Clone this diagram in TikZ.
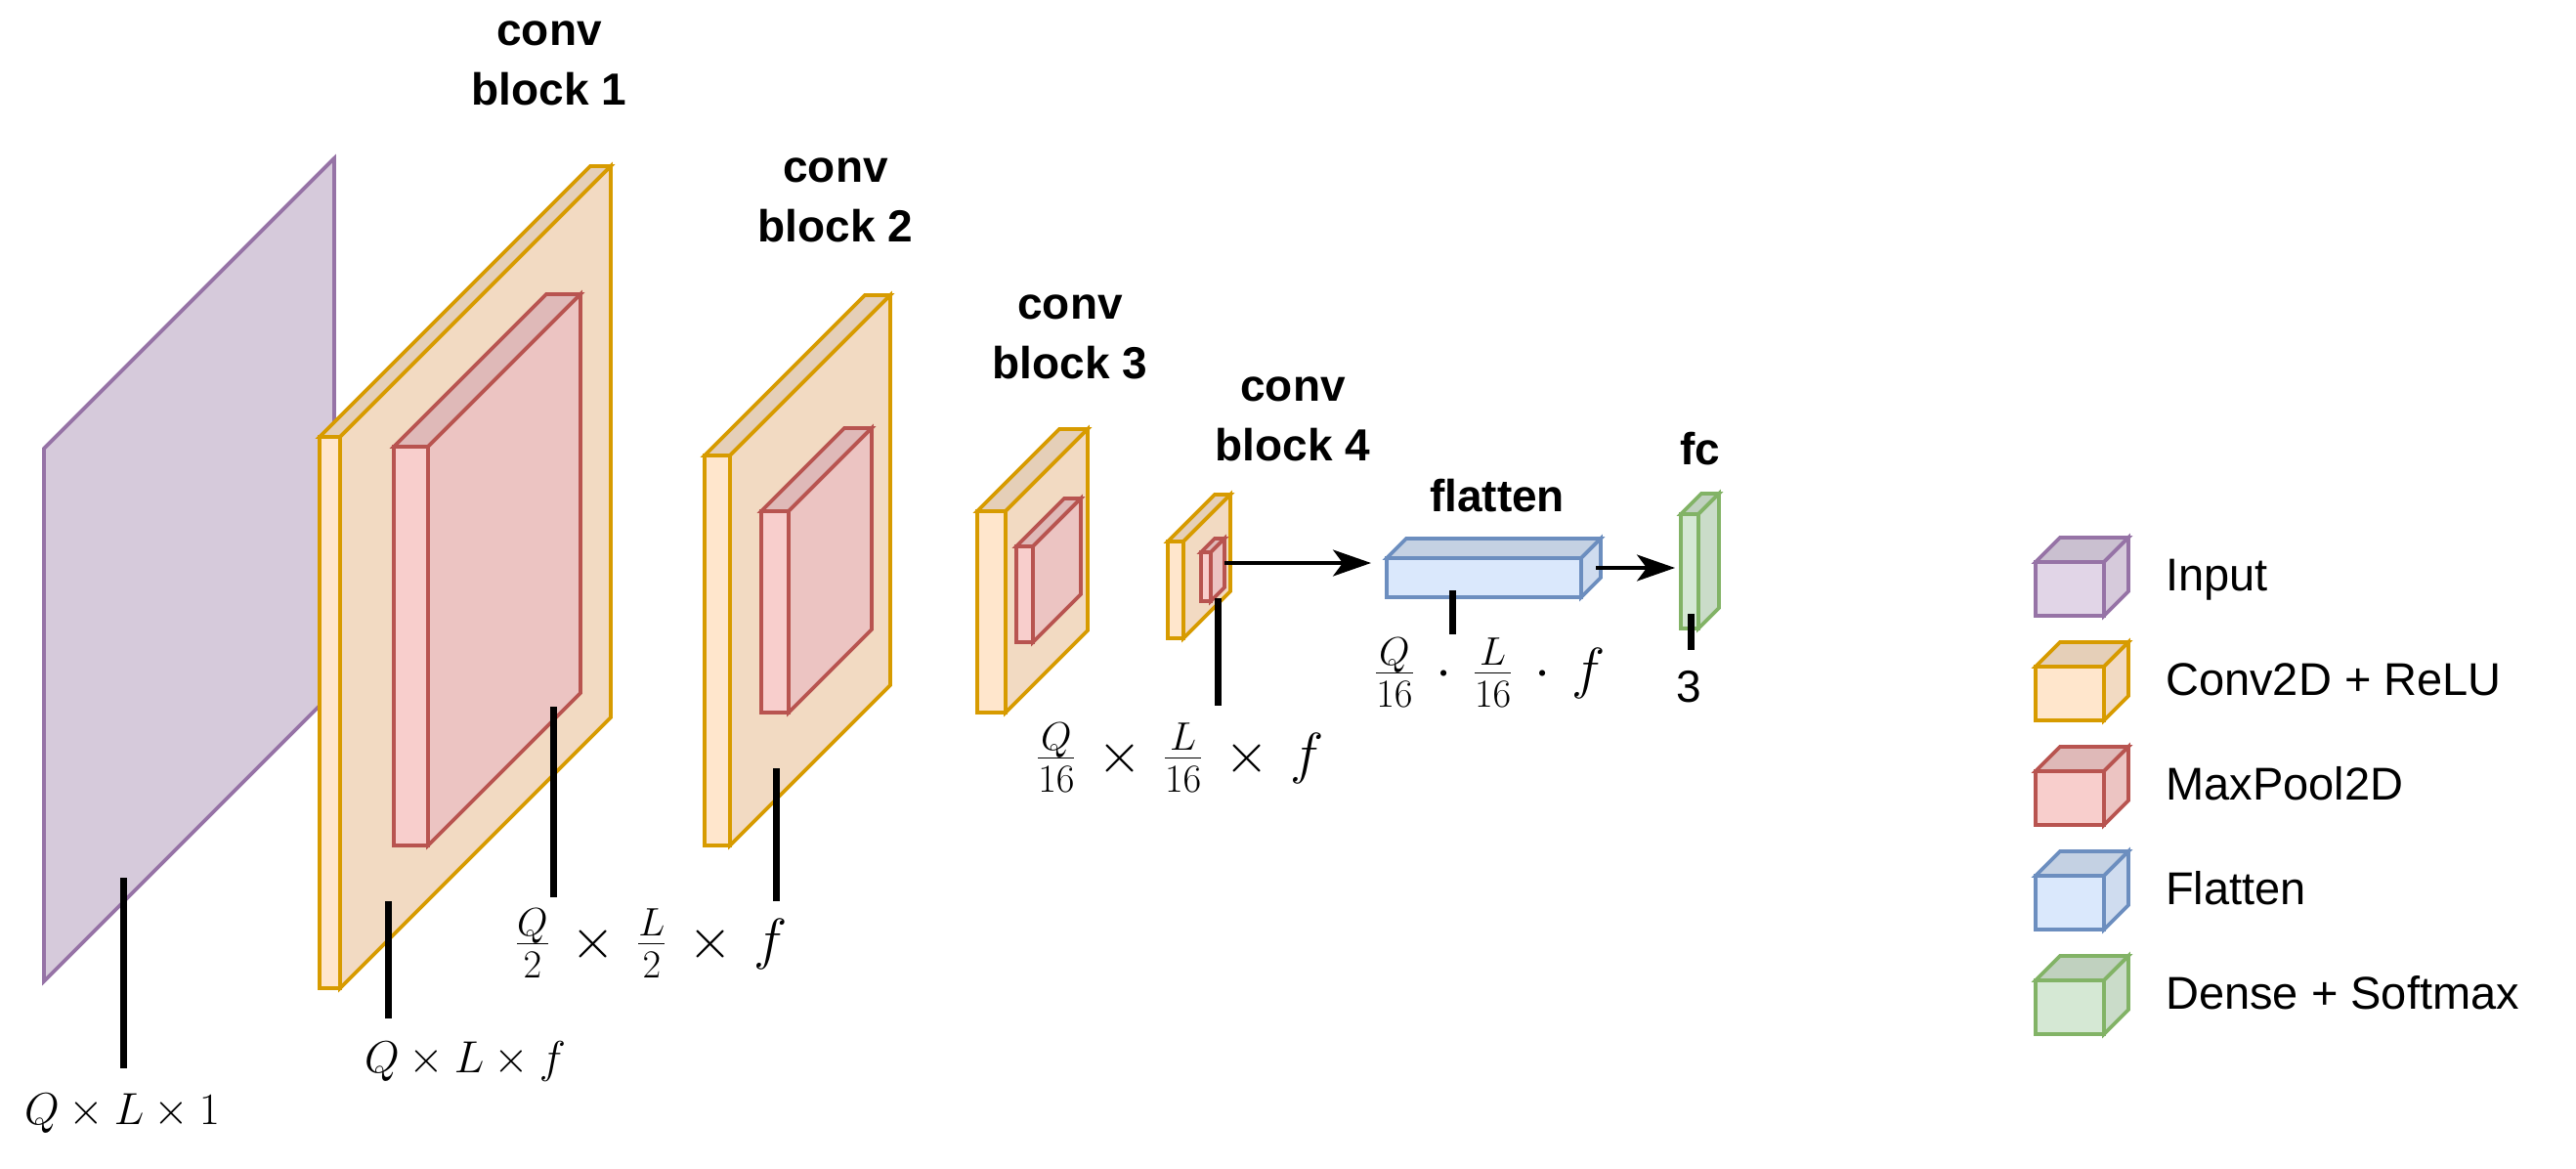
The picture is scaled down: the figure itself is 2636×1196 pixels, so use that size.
\RequirePackage{fix-cm}
\documentclass[tikz,border=0pt]{standalone}
\usepackage[no-math]{fontspec}
\newfontfamily\lsans{Liberation Sans}
\usetikzlibrary{arrows.meta,calc}

\definecolor{pfill}{HTML}{E1D5E7}\definecolor{pline}{HTML}{9673A6}
\definecolor{ofill}{HTML}{FFE6CC}\definecolor{oline}{HTML}{D79B00}
\definecolor{rfill}{HTML}{F8CECC}\definecolor{rline}{HTML}{B85450}
\definecolor{bfill}{HTML}{DAE8FC}\definecolor{bline}{HTML}{6C8EBF}
\definecolor{gfill}{HTML}{D5E8D4}\definecolor{gline}{HTML}{82B366}

\tikzset{
  cubeline/.style={line width=3.7pt},
  bar/.style={line width=7pt,black},
  arr/.style={line width=3.4pt,-{Stealth[length=39pt,width=27pt,inset=10pt]}},
  ttl/.style={inner sep=0pt,anchor=base,font=\lsans\bfseries\fontsize{46}{61}\selectfont},
  dimlab/.style={inner sep=0pt,anchor=base,font=\fontsize{46}{55}\selectfont},
  fraclab/.style={inner sep=0pt,anchor=base,font=\fontsize{58}{68}\selectfont},
  leglab/.style={inner sep=0pt,anchor=base west,font=\lsans\fontsize{47}{56}\selectfont},
}

% name, x, y (front top-left), w, h, depth, fill, line
\newcommand\cuboid[8]{%
  \filldraw[fill=#7!90!black,draw=#8,cubeline] (#2,#3) -- ++(#6,-#6) -- ++(#4,0) -- ++(-#6,#6) -- cycle;
  \filldraw[fill=#7!95!black,draw=#8,cubeline] (#2+#4,#3) -- ++(#6,-#6) -- ++(0,#5) -- ++(-#6,#6) -- cycle;
  \filldraw[fill=#7,draw=#8,cubeline] (#2,#3) rectangle ++(#4,#5);
  \coordinate (#1-f) at (#2,#3);
  \coordinate (#1-e) at (#2+#4+#6,#3+#5/2-#6);
  \coordinate (#1-s) at (#2+#4+#6/2,#3+#5/2-#6/2);
}

\begin{document}
\begin{tikzpicture}[x=1pt,y=-1pt]
\useasboundingbox[fill=white] (0,0) rectangle (2636,1196);

% layers
\cuboid{in}{45}{459}{0}{545}{297}{pfill}{pline}
\cuboid{c1}{327}{447}{21}{564}{277}{ofill}{oline}
\cuboid{p1}{403}{457}{35}{408}{156}{rfill}{rline}
\cuboid{c2}{721}{466}{26}{399}{164}{ofill}{oline}
\cuboid{p2}{779}{523}{28}{206}{85}{rfill}{rline}
\cuboid{c3}{1000}{523}{29}{206}{84}{ofill}{oline}
\cuboid{p3}{1040}{559}{17}{98}{49}{rfill}{rline}
\cuboid{c4}{1195}{554}{16}{99}{48}{ofill}{oline}
\cuboid{p4}{1229}{565}{10}{50}{14}{rfill}{rline}
\cuboid{fl}{1419}{571}{199}{40}{20}{bfill}{bline}
\cuboid{fc}{1720}{526}{18}{117}{21}{gfill}{gline}

% connectors
\draw[arr,shorten >=16pt] (p4-e) -- (p4-e -| fl-f);
\draw[arr,shorten <=5pt,shorten >=6pt] (fl-s) -- (fl-s -| fc-f);

% titles
\node[ttl] (t1) at (562,108) {\begin{tabular}[b]{@{}c@{}}conv\\block 1\end{tabular}};
\node[ttl] (t2) at (855,247) {\begin{tabular}[b]{@{}c@{}}conv\\block 2\end{tabular}};
\node[ttl] (t3) at (1095,387) {\begin{tabular}[b]{@{}c@{}}conv\\block 3\end{tabular}};
\node[ttl] (t4) at (1323,471) {\begin{tabular}[b]{@{}c@{}}conv\\block 4\end{tabular}};
\node[ttl] (tfl) at (1532,523) {flatten};
\node[ttl] (tfc) at (1740,475) {fc};

% dimension bars
\coordinate (b1a) at (126,898);  \coordinate (b1b) at (126,1093);
\coordinate (b2a) at (397,922);  \coordinate (b2b) at (397,1042);
\coordinate (b3a) at (566,723);  \coordinate (b3b) at (566,918);
\coordinate (b4a) at (794,786);  \coordinate (b4b) at (794,922);
\coordinate (b5a) at (1246,612); \coordinate (b5b) at (1246,722);
\coordinate (b6a) at (1486,604); \coordinate (b6b) at (1486,649);
\coordinate (b7a) at (1730,628); \coordinate (b7b) at (1730,665);
\foreach \i in {1,...,7} {\draw[bar] (b\i a) -- (b\i b);}

% dimension labels
\node[dimlab] (d1) at (125,1150) {$Q\times L\times 1$};
\node[dimlab] (d2) at (476,1097) {$Q\times L\times f$};
\node[fraclab] (d3) at (667,980) {$\frac{Q}{2}\,\times\,\frac{L}{2}\,\times\, f$};
\node[fraclab] (d4) at (1208,790) {$\frac{Q}{16}\,\times\,\frac{L}{16}\,\times\, f$};
\node[fraclab] (d5) at (1525,703) {$\frac{Q}{16}\,\cdot\,\frac{L}{16}\,\cdot\, f$};
\node[inner sep=0pt,anchor=base,font=\lsans\fontsize{46}{55}\selectfont] (d6) at (1728,718) {3};

% legend
\cuboid{l1}{2083}{575}{70}{55}{25}{pfill}{pline}
\cuboid{l2}{2083}{682}{70}{55}{25}{ofill}{oline}
\cuboid{l3}{2083}{789}{70}{55}{25}{rfill}{rline}
\cuboid{l4}{2083}{896}{70}{55}{25}{bfill}{bline}
\cuboid{l5}{2083}{1003}{70}{55}{25}{gfill}{gline}
\node[leglab] (lt1) at (2216,604) {Input};
\node[leglab] (lt2) at (2216,711) {Conv2D + ReLU};
\node[leglab] (lt3) at (2216,818) {MaxPool2D};
\node[leglab] (lt4) at (2216,925) {Flatten};
\node[leglab] (lt5) at (2216,1032) {Dense + Softmax};
\end{tikzpicture}
\end{document}
